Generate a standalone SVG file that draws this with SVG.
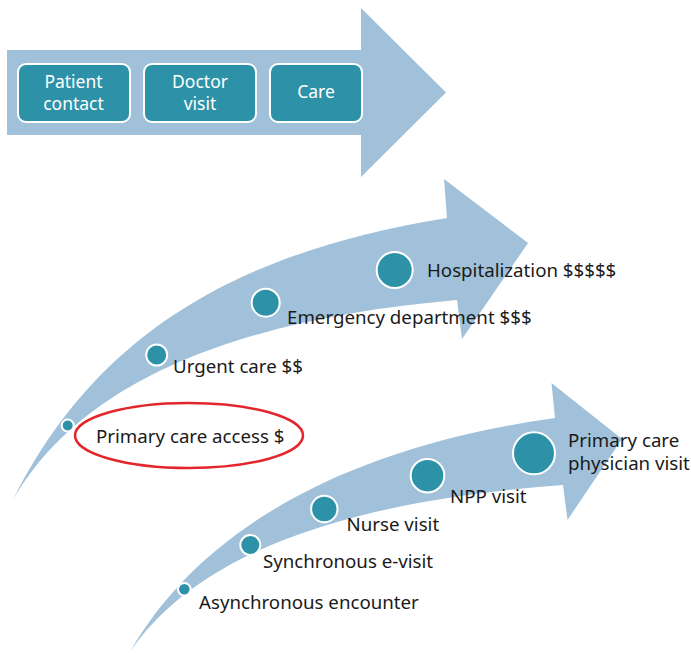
<svg xmlns="http://www.w3.org/2000/svg" width="691" height="653" viewBox="0 0 691 653">
<style>
.arrow{fill:#a0c1d9;}
.box{fill:#2d92a8;stroke:#ffffff;stroke-width:2;}
.dot{fill:#2d92a8;stroke:#ffffff;stroke-width:2;}
.bt{font-family:"Noto Sans","Open Sans",sans-serif;font-size:17.5px;fill:#ffffff;text-anchor:middle;}
.lb{font-family:"Noto Sans","Open Sans",sans-serif;font-size:18.7px;fill:#1a1a1a;}
</style>
<rect width="691" height="653" fill="#ffffff"/>
<g id="connectors">
<path class="arrow" d="M7,50 H361 V8 L446,92.5 L361,177 V135 H7 Z"/>
<path class="arrow" d="M13,500 C100,325 250,250 447,218 L444,179 L528,243 L462,339 L457,300 C250,318 85,375 13,500 Z"/>
<path class="arrow" d="M130,652 C205,520 362,445 555,418 L551.5,383 L622,439 L567.5,520 L563,485 C360,500 200,548 130,652 Z"/>
</g>
<g id="patient-contact">
<rect class="box" x="18" y="64" width="112" height="58" rx="8"/>
<text class="bt" x="73.5" y="87.5">Patient</text>
<text class="bt" x="73.5" y="109.5">contact</text>
</g>
<g id="doctor-visit">
<rect class="box" x="144" y="64" width="112" height="58" rx="8"/>
<text class="bt" x="200" y="87.5">Doctor</text>
<text class="bt" x="200" y="109.5">visit</text>
</g>
<g id="care">
<rect class="box" x="270" y="64" width="92" height="58" rx="8"/>
<text class="bt" x="316" y="98">Care</text>
</g>
<g id="primary-care-access">
<circle class="dot" cx="67.7" cy="425.5" r="6"/>
<ellipse cx="189" cy="435.5" rx="114" ry="32.5" fill="none" stroke="#e3262b" stroke-width="2.5"/>
<text class="lb" x="96" y="443">Primary care access $</text>
</g>
<g id="urgent-care">
<circle class="dot" cx="156.7" cy="355" r="10.5"/>
<text class="lb" x="173" y="373">Urgent care $$</text>
</g>
<g id="emergency-department">
<circle class="dot" cx="265.7" cy="302.7" r="14"/>
<text class="lb" x="287" y="324">Emergency department $$$</text>
</g>
<g id="hospitalization">
<circle class="dot" cx="394.7" cy="270" r="18"/>
<text class="lb" x="427" y="277">Hospitalization $$$$$</text>
</g>
<g id="asynchronous-encounter">
<circle class="dot" cx="184.3" cy="589.3" r="6.3"/>
<text class="lb" x="199" y="609.3">Asynchronous encounter</text>
</g>
<g id="synchronous-e-visit">
<circle class="dot" cx="250.3" cy="545" r="10"/>
<text class="lb" x="263" y="567.5">Synchronous e-visit</text>
</g>
<g id="nurse-visit">
<circle class="dot" cx="324.3" cy="509" r="13.2"/>
<text class="lb" x="346.5" y="531">Nurse visit</text>
</g>
<g id="npp-visit">
<circle class="dot" cx="427.5" cy="475.7" r="16.8"/>
<text class="lb" x="450" y="503">NPP visit</text>
</g>
<g id="primary-care-physician-visit">
<circle class="dot" cx="534" cy="453.3" r="21"/>
<text class="lb" x="568" y="447">Primary care</text>
<text class="lb" x="568" y="470">physician visit</text>
</g>
</svg>
